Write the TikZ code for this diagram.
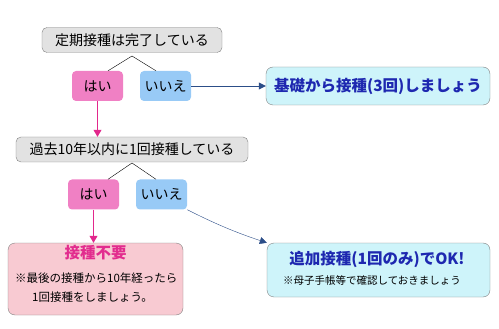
\documentclass[tikz,border=0pt]{standalone}
\usepackage{fontspec}
\setmainfont{Noto Sans CJK JP}
\usetikzlibrary{positioning, arrows.meta, shapes}
\definecolor{CondGray}{RGB}{226, 226, 226}
\definecolor{EdgeGray}{RGB}{130, 130, 130}
\definecolor{YesPink}{RGB}{240, 128, 196}
\definecolor{NoBlue}{RGB}{152, 202, 246}
\definecolor{ArrowPink}{RGB}{226, 40, 140}
\definecolor{ArrowNavy}{RGB}{44, 78, 136}
\definecolor{ResCyan}{RGB}{206, 244, 250}
\definecolor{ResPink}{RGB}{248, 202, 210}
\definecolor{TitleBlue}{RGB}{30, 40, 176}
\definecolor{TitleMagenta}{RGB}{226, 44, 142}

\begin{document}
\begin{tikzpicture}[x=1pt, y=-1pt,
    cond/.style={draw=EdgeGray, fill=CondGray, rounded corners=5pt, inner sep=0pt,
                 minimum height=25pt, font=\fontsize{14}{16}\selectfont},
    yes/.style={fill=YesPink, rounded corners=4pt, inner sep=0pt,
                minimum width=51pt, minimum height=30pt, font=\fontsize{14}{16}\selectfont},
    no/.style={yes, fill=NoBlue},
    result/.style={draw=EdgeGray, rounded corners=7pt, inner sep=0pt},
    restitle/.style={inner sep=0pt, font=\fontsize{15.5}{18}\selectfont\bfseries},
    resnote/.style={inner sep=0pt, align=left},
    pinkarrow/.style={ArrowPink, thick, -{Triangle[length=7pt, width=8pt]}},
    navyarrow/.style={ArrowNavy, -{Triangle[length=7pt, width=7pt]}}]
    \useasboundingbox (0,0) rectangle (499,329);
    % first question
    \node[cond, minimum width=180pt] (q1) at (132,40) {定期接種は完了している};
    \node[yes] (yes1) at (97.5,86) {はい};
    \node[no] (no1) at (165.5,86) {いいえ};
    \coordinate (fork1) at (132,56);
    \draw (fork1) -- (yes1.north -| 108,0);
    \draw (fork1) -- (no1.north -| 156,0);
    \node[result, fill=ResCyan, minimum width=224pt, minimum height=38pt] (base) at (378,86) {};
    \node[restitle, text=TitleBlue] (baseTitle) at (base) {基礎から接種(3回)しましょう};
    \draw[navyarrow] (no1) -- (base);
    % second question
    \node[cond, minimum width=232pt] (q2) at (132,149.5) {過去10年以内に1回接種している};
    \draw[pinkarrow] (yes1) -- (q2.north -| yes1);
    \node[yes] (yes2) at (93.5,194.5) {はい};
    \node[no] (no2) at (161.5,194.5) {いいえ};
    \coordinate (fork2) at (132,163);
    \draw (fork2) -- (yes2.north -| 108,0);
    \draw (fork2) -- (no2.north -| 156,0);
    % results
    \node[result, fill=ResPink, minimum width=175pt, minimum height=72pt] (none) at (95.5,279) {};
    \node[restitle, text=TitleMagenta] (noneTitle) at (95.5,253) {接種不要};
    \node[resnote, font=\fontsize{11.5}{19}\selectfont, anchor=north west] (noneNote) at (15,273)
          {※最後の接種から10年経ったら\\\hspace*{17pt}1回接種をしましょう。};
    \draw[pinkarrow] (yes2) -- (none.north -| yes2);
    \node[result, fill=ResCyan, minimum width=223pt, minimum height=54pt] (extra) at (378.5,270) {};
    \node[restitle, text=TitleBlue] (extraTitle) at (377,259) {追加接種(1回のみ)でOK!};
    \node[resnote, font=\fontsize{10.5}{13}\selectfont] (extraNote) at (372,280)
          {※母子手帳等で確認しておきましょう};
    \draw[navyarrow] (no2.south east) to[bend right=4] (extra.north west);
\end{tikzpicture}
\end{document}
